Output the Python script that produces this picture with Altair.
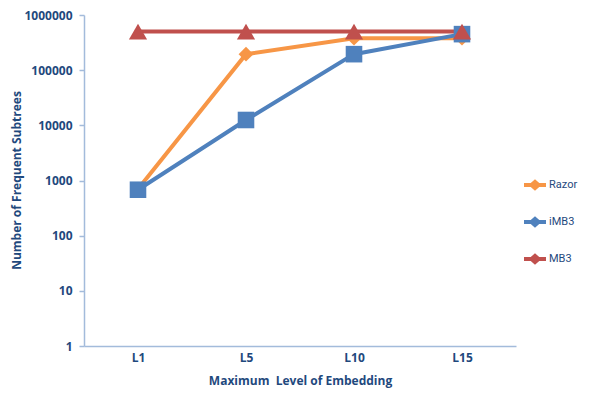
import altair as alt
import pandas as pd

levels = ["L1", "L5", "L10", "L15"]
series = ["Razor", "iMB3", "MB3"]
razor = [700, 195000, 380000, 380000]
imb3 = [680, 12500, 195000, 450000]
mb3 = [500000, 500000, 500000, 500000]
y_ticks = [1, 10, 100, 1000, 10000, 100000, 1000000]

colors = ["#F79646", "#4F81BD", "#C0504D"]
shapes = ["diamond", "square", "triangle-up"]
sizes = [220, 330, 300]

rows = []
for name, vals in zip(series, [razor, imb3, mb3]):
    for i, (lv, v) in enumerate(zip(levels, vals)):
        rows.append({"level": lv, "value": v, "series": name, "marker": name,
                     "ord": series.index(name)})
df = pd.DataFrame(rows)

FONT = "Open Sans"
TXT = "#1F497D"
AX = "#A3BBDB"

x = alt.X("level:N", sort=levels, scale=alt.Scale(paddingOuter=0.5, paddingInner=1),
          axis=alt.Axis(title="Maximum\u00a0 Level of Embedding", labelAngle=0, ticks=False,
                        labelPadding=6, titlePadding=12, domainColor=AX, domainWidth=1.5))
y = alt.Y("value:Q", scale=alt.Scale(type="log", domain=[1, 1000000], nice=False),
          axis=alt.Axis(title="Number of Frequent Subtrees", values=y_ticks, format="d",
                        grid=False, tickColor=AX, tickSize=5, tickWidth=1.5,
                        domainColor=AX, domainWidth=1.5, labelPadding=7,
                        titleX=-61, titleY=165, titleBaseline="bottom", titleAngle=-90))

color = alt.Color("series:N", scale=alt.Scale(domain=series, range=colors),
                  legend=alt.Legend(title=None, orient="none", legendX=438, legendY=157,
                                    padding=0,
                                    symbolType="M-1,0H1M-0.32,0L0,-0.28L0.32,0L0,0.28Z",
                                    symbolSize=484, symbolStrokeWidth=4, symbolOpacity=1,
                                    rowPadding=12, labelOffset=1, labelLimit=60,
                                    labelFont="Roboto", labelFontSize=11, labelColor=TXT))

lines = alt.Chart(df).mark_line(strokeWidth=4).encode(
    x=x, y=y, color=color, detail="series:N", order="ord:Q")
points = alt.Chart(df).mark_point(filled=True, opacity=1).encode(
    x=x, y=y,
    color=alt.Color("marker:N", scale=alt.Scale(domain=series, range=colors), legend=None),
    shape=alt.Shape("marker:N", scale=alt.Scale(domain=series, range=shapes), legend=None),
    size=alt.Size("marker:N", scale=alt.Scale(domain=series, range=sizes), legend=None),
    order="ord:Q")

chart = alt.layer(lines, points).resolve_scale(color="independent").properties(
    width=432, height=331,
    autosize=alt.AutoSizeParams(type="none"),
    padding={"left": 76, "top": 7, "right": 65, "bottom": 46},
).configure_view(stroke=None).configure_axis(
    labelFont=FONT, labelFontSize=12, labelFontWeight="bold", labelColor=TXT,
    titleFont=FONT, titleFontSize=12, titleFontWeight="bold", titleColor=TXT,
)

chart.save("out.html", embed_options={"renderer": "svg", "actions": False})
